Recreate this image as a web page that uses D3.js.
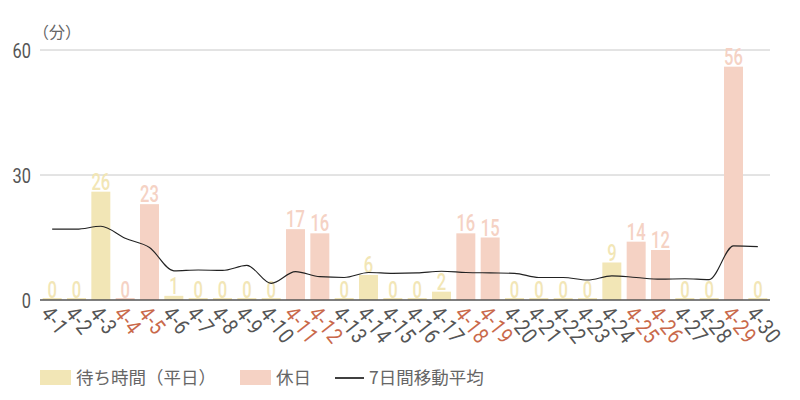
<!DOCTYPE html>
<html>
<head>
<meta charset="utf-8">
<script src="https://cdn.jsdelivr.net/npm/d3@7"></script>
<style>
  body { margin: 0; background: #fff; }
  svg { display: block; }
</style>
</head>
<body>
<script>
// April waiting times (minutes)
const days = ["4-1","4-2","4-3","4-4","4-5","4-6","4-7","4-8","4-9","4-10",
              "4-11","4-12","4-13","4-14","4-15","4-16","4-17","4-18","4-19","4-20",
              "4-21","4-22","4-23","4-24","4-25","4-26","4-27","4-28","4-29","4-30"];
const holidays = ["4-4","4-5","4-11","4-12","4-18","4-19","4-25","4-26","4-29"];
const waits = [0,0,26,0,23,1,0,0,0,0,17,16,0,6,0,0,2,16,15,0,0,0,0,9,14,12,0,0,56,0];
const movingAvg = [17.0,17.0,17.7,14.8,12.6,7.0,7.2,7.1,8.3,4.0,6.8,5.6,5.4,6.6,6.4,
                   6.5,6.9,6.6,6.5,6.4,5.4,5.4,4.8,5.8,5.4,5.0,5.1,4.9,13.0,12.8];
const yTicks = [0, 30, 60];

const width = 800, height = 400;
const weekdayColor = "#f2e6b6", holidayColor = "#f5d2c4";
const numFont = "Roboto, sans-serif";
const jpFont = "'Noto Sans CJK JP', sans-serif";

const svg = d3.select("body").append("svg")
    .attr("width", width)
    .attr("height", height);

const x = d3.scaleBand().domain(days).range([40, 770]).paddingInner(0.22).paddingOuter(0.11);
const y = d3.scaleLinear().domain([0, 60]).range([300, 50]);

const isHoliday = d => holidays.includes(d);

// grid
svg.append("g").selectAll("line")
  .data(yTicks.filter(t => t > 0))
  .join("line")
    .attr("x1", 40).attr("x2", 770)
    .attr("y1", d => y(d)).attr("y2", d => y(d))
    .attr("stroke", "#c8c8c8");

// y labels (narrow digits)
svg.append("g").selectAll("text")
  .data(yTicks)
  .join("text")
    .attr("transform", d => `translate(31,${y(d) + 8}) scale(0.78,1)`)
    .attr("text-anchor", "end")
    .attr("font-family", numFont)
    .attr("font-size", 21)
    .attr("fill", "#555")
    .text(d => d);

svg.append("text")
    .attr("x", 33).attr("y", 38)
    .attr("font-family", jpFont)
    .attr("font-size", 16)
    .attr("fill", "#666")
    .text("（分）");

// bars
const data = days.map((d, i) => ({ day: d, v: waits[i] }));
svg.append("g").selectAll("rect")
  .data(data)
  .join("rect")
    .attr("x", d => x(d.day))
    .attr("width", x.bandwidth())
    .attr("y", d => Math.min(y(d.v), y(0) - 2))
    .attr("height", d => Math.max(y(0) - y(d.v), 2))
    .attr("fill", d => isHoliday(d.day) ? holidayColor : weekdayColor);

// value labels
svg.append("g").selectAll("text")
  .data(data)
  .join("text")
    .attr("transform", d => `translate(${x(d.day) + x.bandwidth() / 2},${y(d.v) - 2}) scale(0.72,1)`)
    .attr("text-anchor", "middle")
    .attr("font-family", numFont)
    .attr("font-weight", 500)
    .attr("font-size", 23)
    .attr("fill", d => isHoliday(d.day) ? holidayColor : weekdayColor)
    .text(d => d.v);

// baseline
svg.append("line")
    .attr("x1", 40).attr("x2", 770)
    .attr("y1", y(0)).attr("y2", y(0))
    .attr("stroke", "#555").attr("stroke-width", 1.5);

// x tick labels
svg.append("g").selectAll("text")
  .data(days)
  .join("text")
    .attr("transform", d => `translate(${x(d) + x.bandwidth() / 2 - 6},${y(0) + 9}) rotate(52) scale(0.85,1)`)
    .attr("dy", "0.35em")
    .attr("font-family", numFont)
    .attr("font-size", 22)
    .attr("letter-spacing", 1)
    .attr("fill", d => isHoliday(d) ? "#c9694b" : "#555")
    .text(d => d);

// moving average
const line = d3.line()
    .x((d, i) => x(days[i]) + x.bandwidth() / 2)
    .y(d => y(d))
    .curve(d3.curveMonotoneX);
svg.append("path")
    .datum(movingAvg)
    .attr("d", line)
    .attr("fill", "none")
    .attr("stroke", "#222")
    .attr("stroke-width", 1.1);

// legend
const legend = svg.append("g")
    .attr("font-family", jpFont)
    .attr("font-size", 17.5)
    .attr("fill", "#666");
legend.append("rect").attr("x", 40).attr("y", 370).attr("width", 31).attr("height", 15).attr("fill", weekdayColor);
legend.append("text").attr("x", 76).attr("y", 384).text("待ち時間（平日）");
legend.append("rect").attr("x", 240).attr("y", 370).attr("width", 31).attr("height", 15).attr("fill", holidayColor);
legend.append("text").attr("x", 276).attr("y", 384).text("休日");
legend.append("line").attr("x1", 335).attr("x2", 364).attr("y1", 378).attr("y2", 378).attr("stroke", "#000").attr("stroke-width", 1.5);
legend.append("text").attr("x", 369).attr("y", 384).text("7日間移動平均");
</script>
</body>
</html>
